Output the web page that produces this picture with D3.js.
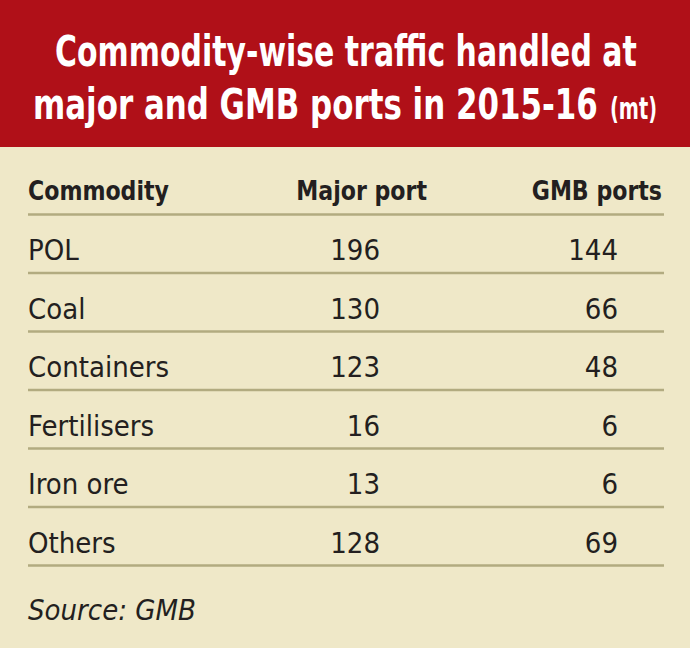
<!DOCTYPE html>
<html>
<head>
<meta charset="utf-8">
<script src="https://cdn.jsdelivr.net/npm/d3@7"></script>
<style>
  html, body { margin: 0; padding: 0; background: #efe8c8; }
  svg { display: block; }
</style>
</head>
<body>
<div id="chart"></div>
<script>
const commodities = ['POL', 'Coal', 'Containers', 'Fertilisers', 'Iron ore', 'Others'];
const majorPort = [196, 130, 123, 16, 13, 128];
const gmbPorts = [144, 66, 48, 6, 6, 69];
const columnHeaders = ['Commodity', 'Major port', 'GMB ports'];
const titleLines = ['Commodity-wise traffic handled at', 'major and GMB ports in 2015-16'];
const titleUnit = '(mt)';
const sourceText = 'Source: GMB';

const width = 690;
const height = 648;
const font = '"Liberation Sans Narrow", "DejaVu Sans Condensed", sans-serif';

const svg = d3.select('#chart')
    .append('svg')
    .attr('width', width)
    .attr('height', height);

// condensed text: put it in a group and squeeze the group on x
function condensedText(parent, str, x, y, opts) {
    const g = parent.append('g');
    const t = g.append('text')
        .attr('font-size', opts.size)
        .attr('text-anchor', opts.anchor || 'start')
        .text(str);
    if (opts.weight) t.attr('font-weight', opts.weight);
    const w = t.node().getComputedTextLength();
    const s = opts.width ? opts.width / w : opts.factor;
    g.attr('transform', `translate(${x}, ${y}) scale(${s}, 1)`);
    return g;
}

svg.append('rect')
    .attr('width', width)
    .attr('height', height)
    .attr('fill', '#efe8c8');

// red title band
svg.append('rect')
    .attr('width', width)
    .attr('height', 147)
    .attr('fill', '#b01018');

const titleG = svg.append('g')
    .attr('fill', '#fff')
    .attr('font-family', font);

condensedText(titleG, titleLines[0], 55, 66, { size: 42, weight: 'bold', width: 582 });
condensedText(titleG, titleLines[1], 33, 119, { size: 42, weight: 'bold', width: 565 });
condensedText(titleG, titleUnit, 610, 119, { size: 31, weight: 'bold', width: 47 });

// row lines: header rule then one under each row
const y = d3.scaleLinear()
    .domain([0, commodities.length])
    .range([214.5, 214.5 + 58.5 * commodities.length]);

const x = {
    commodity: 28,
    major: 380,
    gmb: 618,
    majorHead: 427,
    gmbHead: 662,
    right: 664
};

const header = svg.append('g')
    .attr('font-family', font)
    .attr('fill', '#231f20');

condensedText(header, columnHeaders[0], x.commodity, 200, { size: 27, weight: 'bold', factor: 0.91 });
condensedText(header, columnHeaders[1], x.majorHead, 200, { size: 27, weight: 'bold', factor: 0.91, anchor: 'end' });
condensedText(header, columnHeaders[2], x.gmbHead, 200, { size: 27, weight: 'bold', factor: 0.91, anchor: 'end' });

svg.append('g')
    .selectAll('line')
    .data(d3.range(commodities.length + 1))
    .join('line')
    .attr('x1', x.commodity)
    .attr('x2', x.right)
    .attr('y1', (d) => y(d))
    .attr('y2', (d) => y(d))
    .attr('stroke', '#b2ab80')
    .attr('stroke-width', 2.5);

const rows = svg.append('g')
    .attr('font-family', font)
    .attr('font-size', 29)
    .attr('fill', '#231f20')
    .selectAll('g')
    .data(commodities.map((d, i) => ({ name: d, major: majorPort[i], gmb: gmbPorts[i], i })))
    .join('g')
    .attr('transform', (d) => `translate(0, ${y(d.i) + 45.5})`);

rows.append('text').attr('x', x.commodity).text((d) => d.name);
rows.append('text').attr('x', x.major).attr('text-anchor', 'end').text((d) => d.major);
rows.append('text').attr('x', x.gmb).attr('text-anchor', 'end').text((d) => d.gmb);

svg.append('text')
    .attr('x', x.commodity)
    .attr('y', 620)
    .attr('font-family', font)
    .attr('font-style', 'italic')
    .attr('font-size', 29)
    .attr('fill', '#231f20')
    .text(sourceText);
</script>
</body>
</html>
